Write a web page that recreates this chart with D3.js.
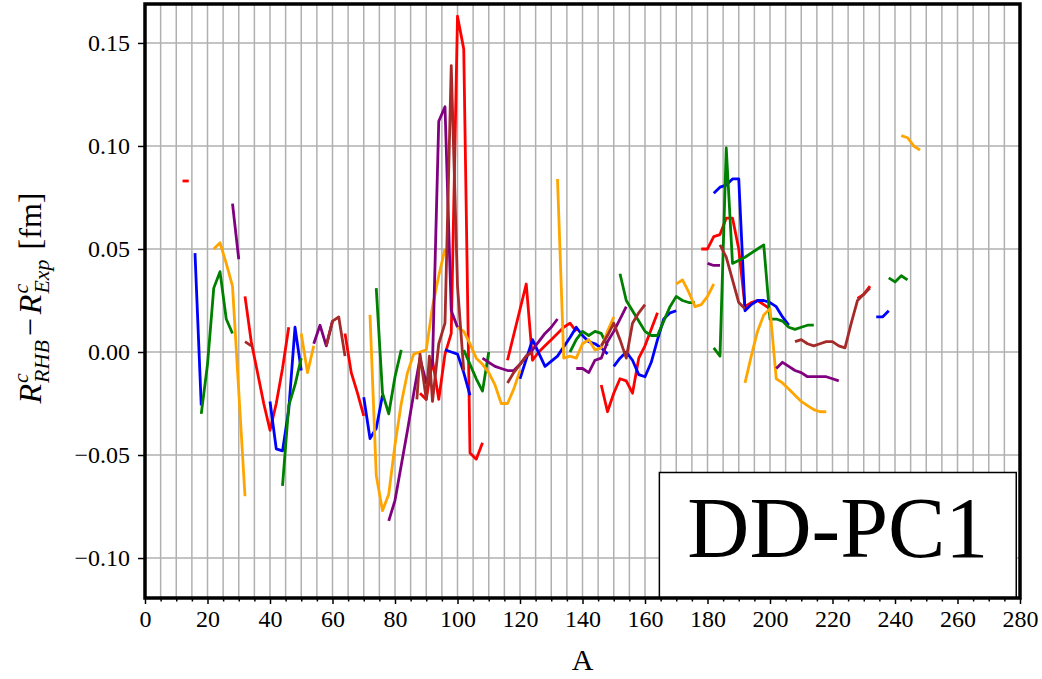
<!DOCTYPE html>
<html><head><meta charset="utf-8">
<script src="https://cdn.jsdelivr.net/npm/d3@7"></script>
<style>body{margin:0;background:#fff}text{font-family:"Liberation Serif","Times New Roman",serif}</style>
</head><body>
<svg id="chart" width="1042" height="679"></svg>
<script>
// ---- data (A, R_RHB - R_Exp) ----
const xTickValues = [0,20,40,60,80,100,120,140,160,180,200,220,240,260,280];
const yTickValues = [-0.10,-0.05,0.00,0.05,0.10,0.15];
const yTickLabels = ["\u22120.10","\u22120.05","0.00","0.05","0.10","0.15"];
const panelLabel = "DD-PC1";

const redChains = [
  [[12,0.083],[14,0.083]],
  [[32,0.027],[34,0.005],[36,-0.010],[38,-0.025],[40,-0.038],[42,-0.025],[44,-0.008],[46,0.012]],
  [[64,0.009],[66,-0.010],[68,-0.020],[70,-0.031]],
  [[88,-0.020],[90,-0.023],[92,-0.004],[94,-0.023],[96,-0.001],[98,0.009],[100,0.163],[102,0.147],[104,-0.049],[106,-0.052],[108,-0.044]],
  [[116,-0.004],[122,0.033],[124,-0.004],[126,0.000],[128,0.003],[130,0.006],[132,0.009],[134,0.012],[136,0.014],[138,0.010]],
  [[146,-0.016],[148,-0.029],[150,-0.020],[152,-0.013],[154,-0.014],[156,-0.020],[158,-0.003],[160,0.003],[162,0.011],[164,0.019]],
  [[178,0.050],[180,0.050],[182,0.056],[184,0.057],[186,0.065],[188,0.065],[190,0.050],[192,0.022],[194,0.024],[196,0.025],[198,0.023],[200,0.021]],
  [[228,0.026],[230,0.028],[232,0.032]]
];
const blueChains = [
  [[16,0.048],[18,-0.026]],
  [[40,-0.024],[42,-0.047],[44,-0.048],[46,-0.028],[48,0.012],[50,-0.009]],
  [[70,-0.022],[72,-0.042],[74,-0.037],[76,-0.021]],
  [[96,0.001],[98,0.000],[100,-0.001],[102,-0.010],[104,-0.021]],
  [[120,-0.013],[124,0.006],[128,-0.007],[132,-0.002],[136,0.007],[138,0.012],[140,0.008],[142,0.005],[144,0.004],[146,0.002],[148,-0.001]],
  [[150,-0.007],[152,-0.003],[154,0.000],[156,-0.004],[158,-0.011],[160,-0.012],[162,-0.005],[164,0.006],[166,0.016],[168,0.019],[170,0.020]],
  [[182,0.077],[184,0.080],[186,0.081],[188,0.084],[190,0.084],[192,0.020],[194,0.023],[196,0.025],[198,0.025],[200,0.024],[202,0.022],[204,0.017],[206,0.013]],
  [[234,0.017],[236,0.017],[238,0.020]]
];
const greenChains = [
  [[18,-0.030],[20,-0.006],[22,0.031],[24,0.039],[26,0.016],[28,0.009]],
  [[44,-0.065],[46,-0.026],[48,-0.016],[50,-0.003]],
  [[74,0.031],[76,-0.020],[78,-0.030],[80,-0.012],[82,0.001]],
  [[102,0.001],[104,-0.006],[106,-0.013],[108,-0.019],[110,0.000]],
  [[136,0.000],[138,0.006],[140,0.010],[142,0.008],[144,0.010],[146,0.009],[148,0.003]],
  [[152,0.038],[154,0.025],[156,0.020],[158,0.015],[160,0.010],[162,0.008],[164,0.008],[166,0.015],[168,0.022],[170,0.027],[172,0.025],[174,0.024],[176,0.024]],
  [[182,0.002],[184,-0.002],[186,0.099],[188,0.043],[192,0.046],[196,0.050],[198,0.052],[200,0.016],[202,0.016],[204,0.015],[206,0.012],[208,0.011],[210,0.012],[212,0.013],[214,0.013]],
  [[238,0.036],[240,0.034],[242,0.037],[244,0.035]]
];
const orangeChains = [
  [[22,0.050],[24,0.053],[26,0.043],[28,0.032],[32,-0.070]],
  [[50,0.009],[52,-0.010],[54,0.003]],
  [[72,0.018],[74,-0.060],[76,-0.077],[78,-0.069],[80,-0.045],[82,-0.025],[84,-0.010],[86,-0.001],[88,0.000],[90,0.001],[92,0.022],[94,0.037],[96,0.050]],
  [[100,0.012],[102,0.010],[104,0.004],[106,-0.003],[108,-0.006],[110,-0.010],[112,-0.016],[114,-0.025],[116,-0.025],[118,-0.018],[120,-0.009]],
  [[132,0.084],[134,-0.003],[136,-0.002],[138,-0.003],[140,0.004],[142,0.006],[144,0.001],[146,0.002],[148,0.010],[150,0.017]],
  [[170,0.033],[172,0.035],[174,0.029],[176,0.022],[178,0.023],[180,0.027],[182,0.033]],
  [[192,-0.015],[194,-0.002],[196,0.010],[198,0.018],[200,0.021],[202,-0.013],[204,-0.015],[206,-0.018],[208,-0.021],[210,-0.024],[212,-0.026],[214,-0.028],[216,-0.029],[218,-0.029]],
  [[242,0.105],[244,0.104],[246,0.100],[248,0.098]]
];
const purpleChains = [
  [[28,0.072],[30,0.045]],
  [[54,0.004],[56,0.013],[58,0.003],[60,0.015]],
  [[78,-0.082],[80,-0.072],[82,-0.055],[84,-0.038],[86,-0.020],[88,-0.003],[90,-0.015],[92,-0.005],[94,0.112],[96,0.119],[98,0.020],[100,0.012]],
  [[108,-0.003],[110,-0.005],[112,-0.007],[114,-0.008],[116,-0.009],[118,-0.009],[120,-0.006],[122,-0.002],[124,0.001],[126,0.005],[128,0.009],[130,0.012],[132,0.016]],
  [[138,-0.008],[140,-0.008],[142,-0.010],[144,-0.004],[146,-0.003],[148,0.005],[150,0.010],[152,0.016],[154,0.022]],
  [[180,0.043],[182,0.042],[184,0.042]],
  [[202,-0.008],[204,-0.005],[206,-0.007],[208,-0.009],[210,-0.010],[212,-0.012],[214,-0.012],[216,-0.012],[218,-0.012],[220,-0.013],[222,-0.014]]
];
const brownChains = [
  [[32,0.005],[34,0.003]],
  [[58,0.003],[60,0.015],[62,0.017],[64,-0.002]],
  [[87,-0.023],[88,-0.001],[90,-0.023],[91,-0.002],[92,-0.024],[94,0.004],[96,0.014],[98,0.139],[100,0.032],[102,-0.009]],
  [[116,-0.015],[118,-0.010],[120,-0.006],[122,-0.002],[124,0.000]],
  [[146,0.003],[148,0.008],[150,0.014],[152,0.006],[154,-0.003],[156,0.014],[158,0.019],[160,0.023]],
  [[184,0.052],[186,0.046],[188,0.035],[190,0.024],[192,0.021]],
  [[208,0.005],[210,0.006],[212,0.004],[214,0.003],[216,0.004],[218,0.005],[220,0.005],[222,0.003],[224,0.002],[226,0.014],[228,0.025],[230,0.028],[232,0.031]]
];
const seriesList = [
  {chains: redChains, color: "#ff0000"},
  {chains: blueChains, color: "#0000ff"},
  {chains: greenChains, color: "#008000"},
  {chains: orangeChains, color: "#ffa500"},
  {chains: purpleChains, color: "#800080"},
  {chains: brownChains, color: "#a52a2a"}
];

// ---- layout ----
const L = 145, R = 1020, T = 4, B = 598;
const svg = d3.select("#chart");
const x = d3.scaleLinear().domain([0, 280]).range([L, R]);
const y = d3.scaleLinear().domain([-0.1194, 0.1689]).range([B, T]);

svg.append("rect").attr("width",1042).attr("height",679).attr("fill","#fff");

// grid
const gGrid = svg.append("g");
gGrid.selectAll("line.vx").data(d3.range(5, 280, 5)).join("line")
  .attr("x1", d => x(d)).attr("x2", d => x(d)).attr("y1", T).attr("y2", B)
  .attr("stroke", "#b0b0b0").attr("stroke-width", 1.5);
gGrid.selectAll("line.hy").data(yTickValues).join("line")
  .attr("x1", L).attr("x2", R).attr("y1", d => y(d)).attr("y2", d => y(d))
  .attr("stroke", "#b0b0b0").attr("stroke-width", 1.5);

// lines
svg.append("clipPath").attr("id","clip").append("rect")
  .attr("x", L).attr("y", T).attr("width", R-L).attr("height", B-T);
const line = d3.line().x(d => x(d[0])).y(d => y(d[1]));
const gLines = svg.append("g").attr("clip-path","url(#clip)");
seriesList.forEach(s => {
  gLines.selectAll(null).data(s.chains).join("path")
    .attr("d", line).attr("fill","none").attr("stroke", s.color)
    .attr("stroke-width", 2.8).attr("stroke-linejoin","round").attr("stroke-linecap","butt");
});

// panel label box
const bx0 = x(164.6), bx1 = x(278.8), by0 = 472.5;
svg.append("rect").attr("x", bx0).attr("y", by0).attr("width", bx1-bx0).attr("height", B-by0)
  .attr("fill","#fff").attr("stroke","#000").attr("stroke-width",1.5);
svg.append("text").attr("x", (bx0+bx1)/2).attr("y", 557).attr("text-anchor","middle")
  .attr("font-size", 86).attr("fill","#000").text(panelLabel);

// axes
const xAxis = d3.axisBottom(x).tickValues(xTickValues).tickSize(6).tickPadding(6).tickFormat(d3.format("d"));
const gx = svg.append("g").attr("transform", `translate(0,${B})`).call(xAxis);
const xMinor = d3.axisBottom(x).tickValues(d3.range(0, 281, 5).filter(v => v % 20 !== 0)).tickSize(3.5).tickFormat("");
const gxm = svg.append("g").attr("transform", `translate(0,${B})`).call(xMinor);
const yAxis = d3.axisLeft(y).tickValues(yTickValues).tickSize(7).tickPadding(8).tickFormat((d,i) => yTickLabels[i]);
const gy = svg.append("g").attr("transform", `translate(${L},0)`).call(yAxis);
[gx, gxm, gy].forEach(g => {
  g.select(".domain").remove();
  g.selectAll(".tick line").attr("stroke","#000").attr("stroke-width",1.5);
  g.selectAll(".tick text").attr("font-family","Liberation Serif, serif").attr("font-size",24).attr("fill","#000");
});

// frame
svg.append("rect").attr("x", L).attr("y", T).attr("width", R-L).attr("height", B-T)
  .attr("fill","none").attr("stroke","#000").attr("stroke-width",3.5);

// x label
svg.append("text").attr("x", (L+R)/2).attr("y", 670).attr("text-anchor","middle")
  .attr("font-size", 30).attr("fill","#000").text("A");

// y label (mathtext-like)
const gy2 = svg.append("g");
const fs = 32, fss = 22;
let cx = 0;
function piece(str, size, italic, dy) {
  return gy2.append("text").attr("x", cx).attr("y", dy).attr("font-size", size)
    .attr("font-style", italic ? "italic" : "normal").attr("fill","#000").text(str);
}
function rTerm(sub) {
  const r = piece("R", fs, true, 0); cx += r.node().getComputedTextLength() + 1;
  const c = piece("c", fss, true, -13); const w1 = c.node().getComputedTextLength();
  const s = piece(sub, fss, true, 8); const w2 = s.node().getComputedTextLength();
  cx += Math.max(w1, w2);
}
rTerm("RHB");
cx += 4;
const m = piece("\u2212", fs, false, 0); cx += m.node().getComputedTextLength() + 4;
rTerm("Exp");
cx += 10;
const fm = piece("[fm]", fs, false, 0); cx += fm.node().getComputedTextLength();
gy2.attr("transform", `translate(41,298) rotate(-90) translate(${-cx/2},0)`);
</script>
</body></html>
